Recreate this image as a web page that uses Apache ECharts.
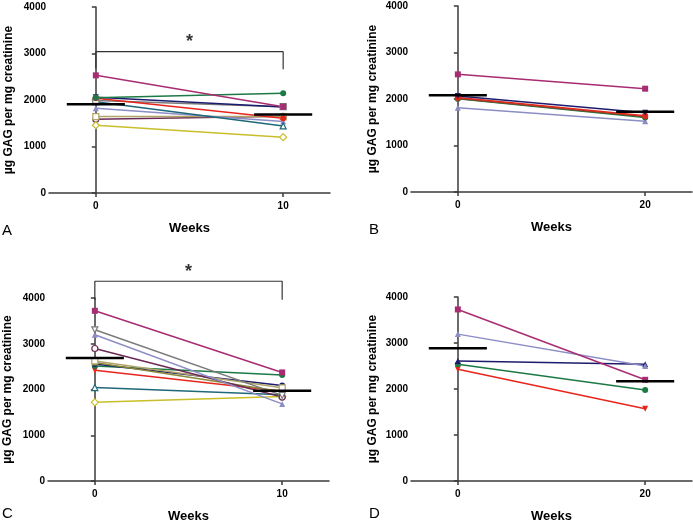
<!DOCTYPE html>
<html>
<head>
<meta charset="utf-8">
<script src="https://cdn.jsdelivr.net/npm/echarts@6/dist/echarts.min.js"></script>
<style>
html,body{margin:0;padding:0;background:#fff;}
#chart{width:693px;height:524px;}
</style>
</head>
<body>
<div id="chart"></div>
<script>
// ---- data ----
const weeksAC = [0, 10];
const weeksBD = [0, 20];
const yTicks = [0, 1000, 2000, 3000, 4000];

// Panel A (0 -> 10 weeks)
const aMagenta = [2530, 1857];
const aGreen   = [2050, 2143];
const aNavy    = [2060, 1850];
const aRed     = [2040, 1607];
const aGray    = [1990, 1857];
const aTeal    = [1964, 1443];
const aLavender= [1821, 1536];
const aKhaki   = [1643, 1643];
const aMaroon  = [1586, 1650];
const aYellow  = [1457, 1200];
const aMean    = [1907, 1686];

// Panel B (0 -> 20 weeks)
const bMagenta = [2530, 2222];
const bNavy    = [2064, 1706];
const bRed     = [2030, 1640];
const bBrown   = [2010, 1620];
const bGreen   = [2007, 1600];
const bLavender= [1814, 1520];
const bMean    = [2079, 1728];

// Panel C (0 -> 10 weeks)
const cMagenta = [3720, 2373];
const cGray    = [3305, 1871];
const cLavender= [3197, 1685];
const cMaroon  = [2896, 1835];
const cKhaki   = [2624, 2036];
const cOlive   = [2590, 1950];
const cNavy    = [2560, 2086];
const cGreen   = [2516, 2315];
const cRed     = [2423, 1960];
const cTeal    = [2043, 1885];
const cYellow  = [1720, 1849];
const cMean    = [2688, 1971];

// Panel D (0 -> 20 weeks)
const dMagenta = [3729, 2200];
const dLavender= [3193, 2500];
const dNavy    = [2607, 2536];
const dGreen   = [2536, 1979];
const dRed     = [2429, 1571];
const dMean    = [2886, 2171];

// significance brackets (A, C)
const bracketA = {top: 3040, left: 2680, right: 2660, star: 3250};
const bracketC = {top: 4366, left: 3964, right: 3964, star: 4560};

// ---- styles ----
const COL = {
  magenta:'#a82c72', green:'#1b7a45', navy:'#1c1c6e', red:'#e8251c', gray:'#7a7a7a',
  teal:'#1f6878', lavender:'#8c8cc6', khaki:'#b0a468', maroon:'#6b2a55', yellow:'#c9bf2a',
  brown:'#7a4a2a', olive:'#8a8a3a'
};
const FONT = 'Liberation Sans, Arial, sans-serif';

function pair(xs, vals, sym, color, open, rot, idx, size) {
  return {
    type: 'line', xAxisIndex: idx, yAxisIndex: idx,
    data: xs.map((x, i) => [x, vals[i]]),
    symbol: sym, symbolSize: size || 6, symbolRotate: rot || 0,
    lineStyle: {color: color, width: 1.5},
    itemStyle: open ? {color: '#fff', borderColor: color, borderWidth: 1.2} : {color: color, borderColor: color, borderWidth: 0},
    z: 3, animation: false, clip: false
  };
}
function meanSeries(xs, vals, half, idx) {
  return xs.map((x, i) => ({
    type: 'line', xAxisIndex: idx, yAxisIndex: idx,
    data: [[x - half, vals[i]], [x + half, vals[i]]],
    symbol: 'none', lineStyle: {color: '#000', width: 2.5}, z: 5, animation: false, clip: false
  }));
}
function bracket(xs, b, idx) {
  return [{
    type: 'line', xAxisIndex: idx, yAxisIndex: idx,
    data: [[xs[0], b.left], [xs[0], b.top], [xs[1], b.top], [xs[1], b.right]],
    symbol: 'none', lineStyle: {color: '#333', width: 1.2}, z: 2, animation: false, clip: false
  }, {
    type: 'scatter', xAxisIndex: idx, yAxisIndex: idx,
    data: [[(xs[0] + xs[1]) / 2, b.star]], symbolSize: 0, clip: false, animation: false,
    label: {show: true, position: 'inside', formatter: '*', fontSize: 18, fontWeight: 'bold', color: '#000', fontFamily: FONT}
  }];
}

const series = [
  pair(weeksAC, aMaroon, 'circle', COL.maroon, true, 0, 0),
  pair(weeksAC, aYellow, 'diamond', COL.yellow, true, 0, 0, 7),
  pair(weeksAC, aKhaki, 'rect', COL.khaki, true, 0, 0),
  pair(weeksAC, aLavender, 'triangle', COL.lavender, false, 0, 0),
  pair(weeksAC, aTeal, 'triangle', COL.teal, true, 0, 0),
  pair(weeksAC, aGray, 'rect', COL.gray, true, 0, 0),
  pair(weeksAC, aRed, 'circle', COL.red, false, 0, 0),
  pair(weeksAC, aNavy, 'triangle', COL.navy, false, 180, 0),
  pair(weeksAC, aGreen, 'circle', COL.green, false, 0, 0),
  pair(weeksAC, aMagenta, 'rect', COL.magenta, false, 0, 0),
  ...meanSeries(weeksAC, aMean, 1.55, 0),
  ...bracket(weeksAC, bracketA, 0),

  pair(weeksBD, bLavender, 'triangle', COL.lavender, false, 0, 1),
  pair(weeksBD, bGreen, 'circle', COL.green, false, 0, 1),
  pair(weeksBD, bBrown, 'circle', COL.brown, false, 0, 1),
  pair(weeksBD, bRed, 'circle', COL.red, false, 0, 1),
  pair(weeksBD, bNavy, 'triangle', COL.navy, false, 180, 1),
  pair(weeksBD, bMagenta, 'rect', COL.magenta, false, 0, 1),
  ...meanSeries(weeksBD, bMean, 3.1, 1),

  pair(weeksAC, cYellow, 'diamond', COL.yellow, true, 0, 2, 7),
  pair(weeksAC, cTeal, 'triangle', COL.teal, true, 0, 2),
  pair(weeksAC, cRed, 'triangle', COL.red, false, 180, 2),
  pair(weeksAC, cGreen, 'circle', COL.green, false, 0, 2),
  pair(weeksAC, cNavy, 'circle', COL.navy, false, 0, 2),
  pair(weeksAC, cOlive, 'rect', COL.olive, false, 0, 2),
  pair(weeksAC, cKhaki, 'rect', COL.khaki, true, 0, 2),
  pair(weeksAC, cMaroon, 'circle', COL.maroon, true, 0, 2),
  pair(weeksAC, cLavender, 'triangle', COL.lavender, false, 0, 2),
  pair(weeksAC, cGray, 'triangle', COL.gray, true, 180, 2),
  pair(weeksAC, cMagenta, 'rect', COL.magenta, false, 0, 2),
  ...meanSeries(weeksAC, cMean, 1.55, 2),
  ...bracket(weeksAC, bracketC, 2),

  pair(weeksBD, dRed, 'triangle', COL.red, false, 180, 3),
  pair(weeksBD, dGreen, 'circle', COL.green, false, 0, 3),
  pair(weeksBD, dNavy, 'triangle', COL.navy, false, 0, 3),
  pair(weeksBD, dLavender, 'triangle', COL.lavender, false, 0, 3),
  pair(weeksBD, dMagenta, 'rect', COL.magenta, false, 0, 3),
  ...meanSeries(weeksBD, dMean, 3.1, 3)
];

const grids = [
  {left: 49, right: 363, top: 7, height: 186},
  {left: 411, right: 1, top: 6, height: 186},
  {left: 48, right: 364, top: 298, height: 186},
  {left: 411, right: 1, top: 297, height: 186}
];

const axisLineStyle = {color: '#3a3a3a', width: 1.5};
function xAxis(idx, min, max, ticks) {
  return {
    type: 'value', gridIndex: idx, min: min, max: max,
    splitLine: {show: false},
    axisLine: {show: true, onZero: false, lineStyle: axisLineStyle},
    axisTick: {show: true, length: 4, lineStyle: axisLineStyle, customValues: ticks},
    axisLabel: {customValues: ticks, fontSize: 10, fontWeight: 'bold', color: '#000', fontFamily: FONT, margin: 8},
    name: 'Weeks', nameLocation: 'middle', nameGap: 29,
    nameTextStyle: {fontSize: 13, fontWeight: 'bold', color: '#000', fontFamily: FONT}
  };
}
function yAxis(idx, gap) {
  return {
    type: 'value', gridIndex: idx, min: 0, max: 4000, interval: 1000,
    splitLine: {show: false},
    axisLine: {show: true, lineStyle: axisLineStyle},
    axisTick: {show: true, length: 4, lineStyle: axisLineStyle},
    axisLabel: {fontSize: 10, fontWeight: 'bold', color: '#000', fontFamily: FONT, margin: 3,
      formatter: v => String(v)},
    name: 'µg GAG per mg creatinine', nameLocation: 'middle', nameGap: gap,
    nameTextStyle: {fontSize: 12, fontWeight: 'bold', color: '#000', fontFamily: FONT}
  };
}

const letterStyle = {fontSize: 15, fill: '#000', fontFamily: FONT};
const chart = echarts.init(document.getElementById('chart'), null, {renderer: 'canvas'});
chart.setOption({
  backgroundColor: '#fff',
  animation: false,
  grid: grids,
  xAxis: [xAxis(0, -2.5, 12.5, weeksAC), xAxis(1, -5, 25, weeksBD), xAxis(2, -2.5, 12.5, weeksAC), xAxis(3, -5, 25, weeksBD)],
  yAxis: [yAxis(0, 34), yAxis(1, 32), yAxis(2, 34), yAxis(3, 32)],
  series: series,
  graphic: [
    {type: 'text', left: 2, top: 223, style: Object.assign({text: 'A'}, letterStyle)},
    {type: 'text', left: 369, top: 222, style: Object.assign({text: 'B'}, letterStyle)},
    {type: 'text', left: 2, top: 506, style: Object.assign({text: 'C'}, letterStyle)},
    {type: 'text', left: 369, top: 506, style: Object.assign({text: 'D'}, letterStyle)}
  ]
});
</script>
</body>
</html>
